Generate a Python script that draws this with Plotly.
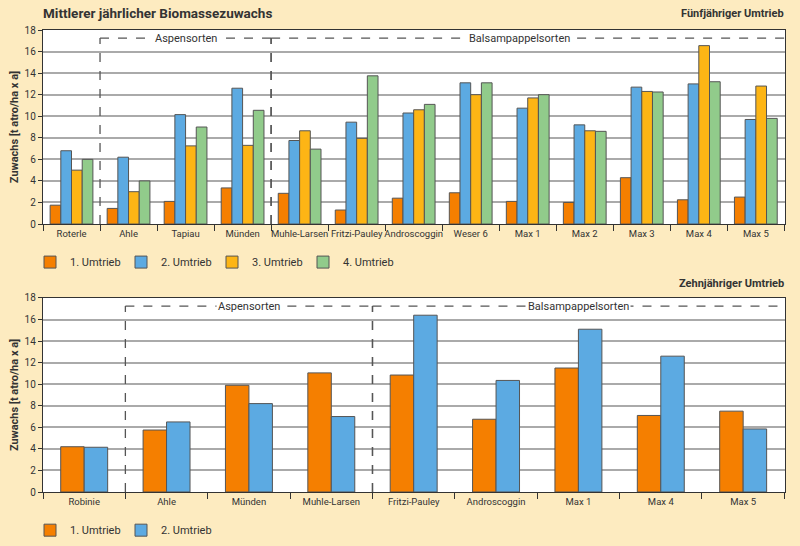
import plotly.graph_objects as go
from plotly.subplots import make_subplots

# ---- data ----
cats_top = ["Roterle", "Ahle", "Tapiau", "Münden", "Muhle-Larsen", "Fritzi-Pauley",
            "Androscoggin", "Weser 6", "Max 1", "Max 2", "Max 3", "Max 4", "Max 5"]
top_u1 = [1.75, 1.45, 2.1, 3.35, 2.85, 1.3, 2.4, 2.9, 2.1, 2.0, 4.3, 2.25, 2.5]
top_u2 = [6.8, 6.2, 10.15, 12.6, 7.75, 9.45, 10.3, 13.1, 10.75, 9.2, 12.7, 13.0, 9.7]
top_u3 = [5.0, 3.0, 7.25, 7.3, 8.65, 7.95, 10.6, 12.0, 11.7, 8.65, 12.3, 16.55, 12.8]
top_u4 = [6.0, 4.0, 9.0, 10.55, 6.95, 13.75, 11.1, 13.1, 12.0, 8.6, 12.25, 13.2, 9.8]

cats_bot = ["Robinie", "Ahle", "Münden", "Muhle-Larsen", "Fritzi-Pauley",
            "Androscoggin", "Max 1", "Max 4", "Max 5"]
bot_u1 = [4.2, 5.75, 9.9, 11.05, 10.85, 6.75, 11.5, 7.1, 7.5]
bot_u2 = [4.15, 6.5, 8.2, 7.0, 16.4, 10.35, 15.1, 12.6, 5.85]

series_names = ["1. Umtrieb", "2. Umtrieb", "3. Umtrieb", "4. Umtrieb"]
colors = ["#F57F00", "#5CAAE2", "#FDB515", "#91CB8B"]
y_ticks = [0, 2, 4, 6, 8, 10, 12, 14, 16, 18]

BG = "#FDEBC0"
TXT = "#333333"
FONT = "Roboto"

fig = make_subplots(rows=2, cols=1, vertical_spacing=0.16)

for name, vals, col in zip(series_names, [top_u1, top_u2, top_u3, top_u4], colors):
    fig.add_trace(go.Bar(x=cats_top, y=vals, name=name, marker_color=col,
                         marker_line=dict(color="#555555", width=1),
                         legend="legend"), row=1, col=1)

for name, vals, col in zip(series_names[:2], [bot_u1, bot_u2], colors[:2]):
    fig.add_trace(go.Bar(x=cats_bot, y=vals, name=name, marker_color=col,
                         marker_line=dict(color="#555555", width=1),
                         width=0.285, offset=(-0.285 if name == "1. Umtrieb" else 0.0),
                         legend="legend2"), row=2, col=1)

axis_common = dict(showline=True, linecolor="#333333", linewidth=1.3, mirror=True,
                   automargin=False)

fig.update_xaxes(**axis_common, ticks="outside", tickson="boundaries", ticklen=6,
                 tickcolor="#333333", showgrid=False, tickangle=0,
                 tickfont=dict(family=FONT, size=9.5, color=TXT))
fig.update_yaxes(**axis_common, range=[0, 18], tickvals=y_ticks, ticks="outside",
                 ticklen=4, tickcolor="#333333", showgrid=True, gridcolor="#AAAAAA",
                 gridwidth=1.5, zeroline=False,
                 tickfont=dict(family=FONT, size=10, color=TXT),
                 title=dict(text="<b>Zuwachs [t atro/ha x a]</b>",
                            font=dict(family=FONT, size=11, color=TXT), standoff=3))

fig.update_layout(xaxis=dict(domain=[0, 1]), yaxis=dict(domain=[0.580, 1.0]),
                  xaxis2=dict(domain=[0, 1]), yaxis2=dict(domain=[0.0, 0.42]))

# dashed group boxes
dash = dict(color="#555555", width=1.3, dash="dash")
def group_box(xref, yref, x0, x1, ytop, right_open):
    shapes = [dict(type="line", xref=xref, yref=yref, x0=x0, x1=x0, y0=0, y1=ytop, line=dash),
              dict(type="line", xref=xref, yref=yref, x0=x0, x1=x1, y0=ytop, y1=ytop, line=dash)]
    if not right_open:
        shapes.append(dict(type="line", xref=xref, yref=yref, x0=x1, x1=x1, y0=0, y1=ytop, line=dash))
    return shapes

shapes = []
shapes += group_box("x", "y", 0.5, 3.5, 17.25, False)
shapes += group_box("x", "y", 3.5, 12.5, 17.25, True)
shapes += group_box("x2", "y2", 0.5, 3.5, 17.25, False)
shapes += group_box("x2", "y2", 3.5, 8.5, 17.25, True)

lab_font = dict(family=FONT, size=11, color=TXT)
annotations = [
    dict(text="Aspensorten", x=2, y=17.25, xref="x", yref="y", showarrow=False,
         bgcolor="white", font=lab_font, borderpad=1),
    dict(text="Balsampappelsorten", x=7.85, y=17.25, xref="x", yref="y", showarrow=False,
         bgcolor="white", font=lab_font, borderpad=1),
    dict(text="Aspensorten", x=2, y=17.25, xref="x2", yref="y2", showarrow=False,
         bgcolor="white", font=lab_font, borderpad=1),
    dict(text="Balsampappelsorten", x=6, y=17.25, xref="x2", yref="y2", showarrow=False,
         bgcolor="white", font=lab_font, borderpad=1),
    dict(text="<b>Mittlerer jährlicher Biomassezuwachs</b>", x=-0.003, y=1.037,
         xref="paper", yref="paper", xanchor="left", yanchor="middle", showarrow=False,
         font=dict(family=FONT, size=13.5, color=TXT)),
    dict(text="<b>Fünfjähriger Umtrieb</b>", x=1.002, y=1.035, xref="paper", yref="paper",
         xanchor="right", yanchor="middle", showarrow=False,
         font=dict(family=FONT, size=11, color=TXT)),
    dict(text="<b>Zehnjähriger Umtrieb</b>", x=1.002, y=0.452, xref="paper", yref="paper",
         xanchor="right", yanchor="middle", showarrow=False,
         font=dict(family=FONT, size=11, color=TXT)),
]

leg_common = dict(orientation="h", xanchor="left", yanchor="middle", bgcolor="rgba(0,0,0,0)",
                  font=dict(family=FONT, size=11, color=TXT), entrywidth=46,
                  entrywidthmode="pixels", itemclick=False,
                  xref="container", yref="container")

fig.update_layout(
    width=800, height=546,
    margin=dict(l=43, r=15, t=30, b=54, autoexpand=False),
    paper_bgcolor=BG, plot_bgcolor="white",
    barmode="group", bargap=0.25, bargroupgap=0.0,
    shapes=shapes, annotations=annotations,
    legend=dict(**leg_common, x=0.0375, y=0.520),
    legend2=dict(**leg_common, x=0.0375, y=0.029),
    showlegend=True,
)

post = ("document.documentElement.style.margin='0';"
        "document.documentElement.style.overflow='hidden';"
        "document.body.style.margin='0';"
        "document.body.style.overflow='hidden';"
        "document.body.style.background='%s';" % BG)

fig.write_html("out.html", config={"displayModeBar": False}, post_script=post)
